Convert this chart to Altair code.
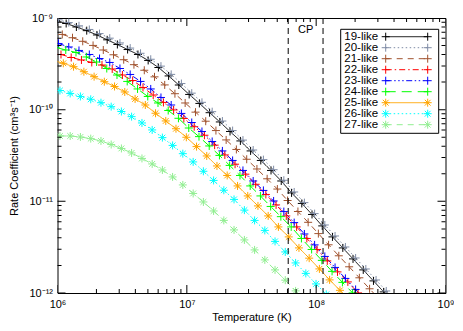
import altair as alt
import pandas as pd

# ---------------- data ----------------
labels = ["19-like", "20-like", "21-like", "22-like", "23-like",
          "24-like", "25-like", "26-like", "27-like"]
colors = ["#000000", "#7f8ca6", "#a0522d", "#ff0000", "#0000ff",
          "#00ff00", "#ffa500", "#00ffff", "#90ee90"]
dashes = [[1, 0], [1.5, 2.5], [6, 5], [6, 3, 1.5, 3],
          [6, 2.5, 1.5, 2.5, 1.5, 2.5, 1.5, 2.5], [10, 6],
          [1, 0], [1.5, 2.5], [6, 5]]
PLUS = "M-1,0L1,0M0,-1L0,1"
STAR = "M-1,0L1,0M0,-1L0,1M-0.72,-0.72L0.72,0.72M-0.72,0.72L0.72,-0.72"
shapes = [PLUS, PLUS, PLUS, PLUS, PLUS, PLUS, STAR, STAR, STAR]
sizes = [64, 64, 64, 64, 64, 64, 90, 90, 90]

# log10(T [K]) and log10(rate [cm^3 s^-1])
logT_19 = [5.988, 6.067, 6.146, 6.226, 6.305, 6.384, 6.463, 6.542, 6.622, 6.701,
           6.780, 6.859, 6.938, 7.018, 7.097, 7.176, 7.255, 7.334, 7.414, 7.493,
           7.572, 7.651, 7.730, 7.810, 7.889, 7.968, 8.047, 8.126, 8.206, 8.285,
           8.364, 8.443, 8.522, 8.602]
logK_19 = [-9.027, -9.060, -9.098, -9.138, -9.185, -9.238, -9.289, -9.344, -9.398, -9.463,
           -9.540, -9.632, -9.731, -9.834, -9.932, -10.033, -10.134, -10.238, -10.341, -10.450,
           -10.554, -10.663, -10.778, -10.908, -11.023, -11.143, -11.268, -11.388, -11.508, -11.628,
           -11.748, -11.868, -11.988, -12.108]

logT_20 = [6.008, 6.087, 6.166, 6.246, 6.325, 6.404, 6.483, 6.562, 6.642, 6.721,
           6.800, 6.879, 6.958, 7.038, 7.117, 7.196, 7.275, 7.354, 7.434, 7.513,
           7.592, 7.671, 7.750, 7.830, 7.909, 7.988, 8.067, 8.146, 8.226, 8.305,
           8.384, 8.463, 8.542, 8.622]
logK_20 = [-9.020, -9.050, -9.085, -9.125, -9.170, -9.220, -9.272, -9.328, -9.385, -9.450,
           -9.525, -9.615, -9.715, -9.820, -9.920, -10.022, -10.124, -10.228, -10.332, -10.440,
           -10.545, -10.655, -10.770, -10.898, -11.014, -11.134, -11.258, -11.378, -11.498, -11.618,
           -11.738, -11.858, -11.978, -12.098]

logT_21 = [6.037, 6.116, 6.195, 6.275, 6.354, 6.433, 6.512, 6.591, 6.671, 6.750,
           6.829, 6.908, 6.987, 7.067, 7.146, 7.225, 7.304, 7.383, 7.463, 7.542,
           7.621, 7.700, 7.779, 7.859, 7.938, 8.017, 8.096, 8.175, 8.255, 8.334,
           8.413, 8.492]
logK_21 = [-9.179, -9.215, -9.254, -9.299, -9.349, -9.401, -9.455, -9.509, -9.570, -9.642,
           -9.730, -9.826, -9.927, -10.027, -10.126, -10.228, -10.330, -10.434, -10.541, -10.647,
           -10.754, -10.866, -10.991, -11.111, -11.229, -11.352, -11.474, -11.594, -11.714, -11.834,
           -11.954, -12.074]

logT_22 = [6.027, 6.106, 6.185, 6.265, 6.344, 6.423, 6.502, 6.581, 6.661, 6.740,
           6.819, 6.898, 6.977, 7.057, 7.136, 7.215, 7.294, 7.373, 7.453, 7.532,
           7.611, 7.690, 7.769, 7.849, 7.928, 8.007, 8.086, 8.165, 8.245, 8.324,
           8.403]
logK_22 = [-9.398, -9.431, -9.458, -9.485, -9.513, -9.556, -9.622, -9.682, -9.758, -9.840,
           -9.921, -10.003, -10.096, -10.186, -10.279, -10.387, -10.494, -10.595, -10.704, -10.814,
           -10.925, -11.039, -11.159, -11.279, -11.405, -11.525, -11.650, -11.770, -11.879, -11.999,
           -12.119]

logT_23 = [6.008, 6.087, 6.166, 6.246, 6.325, 6.404, 6.483, 6.562, 6.642, 6.721,
           6.800, 6.879, 6.958, 7.038, 7.117, 7.196, 7.275, 7.354, 7.434, 7.513,
           7.592, 7.671, 7.750, 7.830, 7.909, 7.988, 8.067, 8.146, 8.226, 8.305,
           8.384]
logK_23 = [-9.278, -9.316, -9.354, -9.398, -9.442, -9.485, -9.551, -9.616, -9.692, -9.774,
           -9.867, -9.949, -10.041, -10.140, -10.238, -10.347, -10.450, -10.554, -10.663, -10.778,
           -10.881, -10.996, -11.112, -11.232, -11.356, -11.475, -11.601, -11.721, -11.841, -11.961,
           -12.081]

logT_24 = [5.985, 6.064, 6.143, 6.223, 6.302, 6.381, 6.460, 6.539, 6.619, 6.698,
           6.777, 6.856, 6.935, 7.015, 7.094, 7.173, 7.252, 7.331, 7.411, 7.490,
           7.569, 7.648, 7.727, 7.807, 7.886, 7.965, 8.044, 8.123, 8.203, 8.282,
           8.361]
logK_24 = [-9.320, -9.349, -9.376, -9.425, -9.480, -9.551, -9.622, -9.692, -9.774, -9.856,
           -9.927, -10.009, -10.094, -10.200, -10.294, -10.396, -10.499, -10.608, -10.718, -10.832,
           -10.941, -11.056, -11.167, -11.279, -11.405, -11.525, -11.644, -11.764, -11.884, -11.999,
           -12.119]

logT_25 = [5.966, 6.045, 6.124, 6.204, 6.283, 6.362, 6.441, 6.520, 6.600, 6.679,
           6.758, 6.837, 6.916, 6.996, 7.075, 7.154, 7.233, 7.312, 7.392, 7.471,
           7.550, 7.629, 7.708, 7.788, 7.867, 7.946, 8.025, 8.104, 8.184, 8.263]
logK_25 = [-9.463, -9.494, -9.531, -9.586, -9.640, -9.695, -9.747, -9.807, -9.883, -9.949,
           -10.039, -10.123, -10.208, -10.301, -10.403, -10.505, -10.614, -10.718, -10.832, -10.941,
           -11.050, -11.159, -11.279, -11.388, -11.508, -11.620, -11.737, -11.857, -11.971, -12.092]

logT_26 = [6.019, 6.098, 6.177, 6.257, 6.336, 6.415, 6.494, 6.573, 6.653, 6.732,
           6.811, 6.890, 6.969, 7.049, 7.128, 7.207, 7.286, 7.365, 7.445, 7.524,
           7.603, 7.682, 7.761, 7.841, 7.920, 7.999, 8.078, 8.157]
logK_26 = [-9.791, -9.823, -9.856, -9.887, -9.924, -9.967, -10.020, -10.076, -10.145, -10.221,
           -10.305, -10.390, -10.480, -10.570, -10.672, -10.772, -10.879, -10.979, -11.096, -11.208,
           -11.317, -11.437, -11.552, -11.672, -11.786, -11.901, -12.015, -12.130]

logT_27 = [6.019, 6.098, 6.177, 6.257, 6.336, 6.415, 6.494, 6.573, 6.653, 6.732,
           6.811, 6.890, 6.969, 7.049, 7.128, 7.207, 7.286, 7.365, 7.445, 7.524,
           7.603, 7.682, 7.761, 7.841, 7.920]
logK_27 = [-10.287, -10.287, -10.298, -10.316, -10.341, -10.380, -10.423, -10.472, -10.532, -10.592,
           -10.658, -10.734, -10.821, -10.914, -11.007, -11.105, -11.208, -11.312, -11.421, -11.530,
           -11.639, -11.748, -11.860, -11.977, -12.092]

cp_T = [6.08e7, 1.13e8]
cp_label_T = [8.3e7]
cp_label = ["CP"]

x_major = [1e6, 1e7, 1e8, 1e9]
y_major = [1e-12, 1e-11, 1e-10, 1e-9]
x_sup = {6: "10⁶", 7: "10⁷", 8: "10⁸", 9: "10⁹"}
y_sup = {-12: "10⁻¹²", -11: "10⁻¹¹", -10: "10⁻¹⁰", -9: "10⁻⁹"}

# ---------------- build tables ----------------
series = [(labels[0], logT_19, logK_19), (labels[1], logT_20, logK_20),
          (labels[2], logT_21, logK_21), (labels[3], logT_22, logK_22),
          (labels[4], logT_23, logK_23), (labels[5], logT_24, logK_24),
          (labels[6], logT_25, logK_25), (labels[7], logT_26, logK_26),
          (labels[8], logT_27, logK_27)]
rows = []
for name, lt, lk in series:
    for a, b in zip(lt, lk):
        rows.append({"series": name, "T": 10 ** a, "rate": 10 ** b})
df = pd.DataFrame(rows)

x_ticks = []
for d in (6, 7, 8):
    for m in range(1, 10):
        x_ticks.append({"T": m * 10.0 ** d, "len": 16 if m == 1 else 8})
x_ticks.append({"T": 1e9, "len": 16})
xt_df = pd.DataFrame(x_ticks)

y_ticks = []
for d in (-12, -11, -10):
    for m in range(1, 10):
        y_ticks.append({"rate": m * 10.0 ** d, "len": 16 if m == 1 else 8})
y_ticks.append({"rate": 1e-9, "len": 16})
yt_df = pd.DataFrame(y_ticks)

leg_df = pd.DataFrame({"series": labels, "row": list(range(len(labels)))})

# ---------------- chart ----------------
W, H = 388, 275
FONT = "Liberation Sans"


def sup_expr(d):
    parts = ["round(log(datum.value)/LN10) == %d ? '%s'" % (k, v) for k, v in d.items()]
    return " : ".join(parts) + " : ''"


xscale = alt.Scale(type="log", domain=[1e6, 1e9], nice=False)
yscale = alt.Scale(type="log", domain=[1e-12, 1e-9], nice=False)

xax = alt.Axis(values=x_major, labelExpr=sup_expr(x_sup), ticks=False, tickSize=0,
               domain=False, grid=False, labelFlush=False, labelOverlap=False,
               labelPadding=5, labelFontSize=11, labelFont=FONT, labelColor="black",
               title="Temperature (K)", titleFont=FONT, titleFontSize=11,
               titleFontWeight="normal", titleColor="black", titleY=24,
               titleBaseline="middle", titleX=W / 2, titleAlign="center")
yax = alt.Axis(values=y_major, labelExpr=sup_expr(y_sup), ticks=False, tickSize=0,
               domain=False, grid=False, labelFlush=False, labelOverlap=False,
               labelPadding=5, labelFontSize=11, labelFont=FONT, labelColor="black",
               title="Rate Coefficient (cm³s⁻¹)", titleFont=FONT, titleFontSize=11,
               titleFontWeight="normal", titleColor="black", titleX=-43,
               titleY=H / 2, titleAngle=270, titleBaseline="middle", titleAlign="center")

X = alt.X("T:Q", scale=xscale, axis=xax)
Y = alt.Y("rate:Q", scale=yscale, axis=yax)

col = alt.Color("series:N", scale=alt.Scale(domain=labels, range=colors), legend=None)
dsh = alt.StrokeDash("series:N", scale=alt.Scale(domain=labels, range=dashes), legend=None)
shp = alt.Shape("series:N", scale=alt.Scale(domain=labels, range=shapes), legend=None)
siz = alt.Size("series:N", scale=alt.Scale(domain=labels, range=sizes), legend=None)

base = alt.Chart(df)
lines = base.mark_line(clip=True, strokeWidth=1).encode(x=X, y=Y, color=col, strokeDash=dsh)
points = base.mark_point(clip=True, filled=False, strokeWidth=1, opacity=1).encode(
    x=X, y=Y, color=col, shape=shp, size=siz)

cp_rules = alt.Chart(pd.DataFrame({"T": cp_T})).mark_rule(
    color="black", strokeWidth=1, strokeDash=[6, 4]).encode(x=X)
cp_text = alt.Chart(pd.DataFrame({"T": cp_label_T, "txt": cp_label})).mark_text(
    font=FONT, fontSize=11, color="black", baseline="middle", align="center").encode(
    x=X, y=alt.value(12), text="txt:N")

tick_kw = dict(clip=True, thickness=1, color="black", opacity=1)
xt_bottom = alt.Chart(xt_df).mark_tick(orient="vertical", **tick_kw).encode(
    x=X, y=alt.value(H), size=alt.Size("len:Q", scale=None))
xt_top = alt.Chart(xt_df).mark_tick(orient="vertical", **tick_kw).encode(
    x=X, y=alt.value(0), size=alt.Size("len:Q", scale=None))
yt_left = alt.Chart(yt_df).mark_tick(orient="horizontal", **tick_kw).encode(
    y=Y, x=alt.value(0), size=alt.Size("len:Q", scale=None))
yt_right = alt.Chart(yt_df).mark_tick(orient="horizontal", **tick_kw).encode(
    y=Y, x=alt.value(W), size=alt.Size("len:Q", scale=None))

main = alt.layer(lines, points, cp_rules, cp_text, xt_bottom, xt_top, yt_left, yt_right)

LY = alt.Y("row:Q", scale=alt.Scale(domain=[0, 8], range=[18.7, 106.7], nice=False, zero=False),
           axis=None)
box = alt.Chart(pd.DataFrame({"a": [0]})).mark_rect(
    fill="white", stroke="black", strokeWidth=1).encode(
    x=alt.value(283.2), x2=alt.value(381.2), y=alt.value(11.3), y2=alt.value(115.3))
leg_rule = alt.Chart(leg_df).mark_rule(strokeWidth=1).encode(
    x=alt.value(328.2), x2=alt.value(370.2), y=LY, color=col, strokeDash=dsh)
leg_pl = alt.Chart(leg_df).mark_point(filled=False, strokeWidth=1, opacity=1).encode(
    x=alt.value(328.2), y=LY, color=col, shape=shp, size=siz)
leg_pr = alt.Chart(leg_df).mark_point(filled=False, strokeWidth=1, opacity=1).encode(
    x=alt.value(370.2), y=LY, color=col, shape=shp, size=siz)
leg_text = alt.Chart(leg_df).mark_text(
    align="left", baseline="middle", font=FONT, fontSize=11.5, color="black").encode(
    x=alt.value(286.8), y=LY, text="series:N")
legend = alt.layer(box, leg_rule, leg_pl, leg_pr, leg_text)

chart = alt.layer(main, legend).resolve_scale(y="independent").properties(
    width=W, height=H,
    padding={"left": 49.5, "top": 10, "right": 8, "bottom": 30},
    autosize=alt.AutoSizeParams(type="none"),
    background="white",
).configure_view(stroke="black", strokeWidth=1)

chart.save("out.html", embed_options={"renderer": "svg", "actions": False})
